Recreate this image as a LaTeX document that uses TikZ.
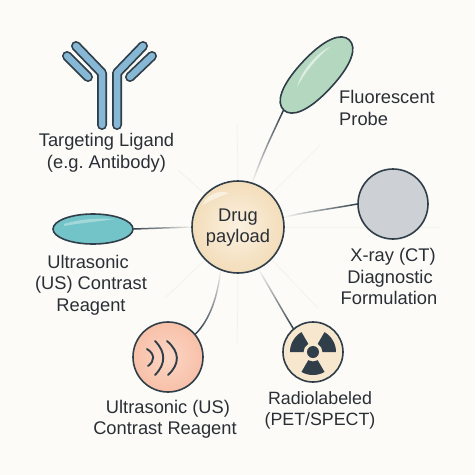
\documentclass[tikz,border=0pt]{standalone}
\usepackage{fontspec}
\setmainfont{Liberation Sans}
\usetikzlibrary{shapes.geometric,fadings}
\definecolor{bgc}{HTML}{FCFBF8}
\definecolor{inkc}{HTML}{2F3E48}
\definecolor{txtc}{HTML}{2A2F36}
\definecolor{rayc}{HTML}{F5F3EE}
\definecolor{blueC}{HTML}{86B7D4}
\definecolor{drugIn}{HTML}{FBF1E0}
\definecolor{drugOut}{HTML}{F3DDBA}
\definecolor{greenC}{HTML}{B4D8BF}
\definecolor{greyC}{HTML}{CDD0D4}
\definecolor{tealB}{HTML}{72C4C8}
\definecolor{peachA}{HTML}{FBD6C5}
\definecolor{peachB}{HTML}{F8C0A8}
\definecolor{radC}{HTML}{F6E7CE}
\tikzset{
  lbl/.style={align=center,text=txtc,font=\fontsize{18.3}{21.5}\selectfont\frenchspacing,inner sep=0pt},
  item/.style={draw=inkc,line width=1.6pt,inner sep=0pt},
  conn/.style={draw=#1,line width=1.5pt,line cap=round},
  conn/.default=inkc,
  ray/.style={draw=rayc,line width=1pt},
  arm/.style={line cap=round,line join=round}
}
\begin{document}
\begin{tikzpicture}[x=1pt,y=-1pt]
\useasboundingbox (0,0) rectangle (475,475);
\fill[bgc] (0,0) rectangle (475,475);
% faint rays
\foreach \ex/\ey/\tx/\ty in {238/180/237/125, 238/274/237/345, 191/227/150/227, 285/227/440/227,
   205/194/178/170, 272/193/320/145, 205/260/165/298, 272/260/318/308}{
  \draw[ray] (\ex,\ey) -- (\tx,\ty);
}
% nodes
\node[item,circle,minimum size=92pt,inner color=drugIn,outer color=drugOut] (drug) at (238,227) {};
\node[ellipse,rotate=47,minimum width=97pt,minimum height=38pt,inner sep=0pt] (probe) at (316.5,75) {};
\begin{scope}[shift={(probe.center)},rotate=47,x=1pt,y=1pt]
  \path[draw=inkc,line width=1.6pt,fill=greenC] (-48,0) .. controls (-48,-11) and (-32,-19) .. (0,-19)
    .. controls (32,-19) and (48,-11) .. (48,0)
    .. controls (48,11) and (32,19) .. (0,19)
    .. controls (-32,19) and (-48,11) .. (-48,0) -- cycle;
  \fill[white,opacity=.55] (-22,6) .. controls (-8,10) and (16,12) .. (30,9) .. controls (18,15) and (-8,14) .. (-22,6) -- cycle;
\end{scope}
\node[item,circle,minimum size=70pt,fill=greyC] (xray) at (393,204) {};
\node[item,ellipse,minimum width=80pt,minimum height=30pt,fill=tealB] (bubble) at (93,229) {};
\node[item,circle,minimum size=70pt,inner color=peachA,outer color=peachB] (wave) at (168,357) {};
\node[item,circle,minimum size=60pt,fill=radC] (rad) at (313,352) {};
% connectors
\draw[conn,path fading=south] (probe.west) .. controls (272,135) and (262,155) .. (drug.72);
\draw[conn,path fading=west] (xray.west) .. controls (330,209) and (305,212) .. (drug.12);
\draw[conn,path fading=east] (bubble.east) -- (drug.180);
\draw[conn,path fading=north] (wave.40) .. controls (210,320) and (218,295) .. (drug.248);
\draw[conn,path fading=north] (rad.130) .. controls (282,310) and (272,292) .. (drug.296);
% highlights
\fill[white,opacity=.5] (202,205) .. controls (208,194) and (218,190) .. (229,193) .. controls (220,196) and (212,200) .. (202,205) -- cycle;
\fill[white,opacity=.35] (64,224) .. controls (80,219) and (95,218) .. (115,219) .. controls (95,222) and (80,223) .. (64,226) -- cycle;
% antibody
\foreach \w/\c in {10/inkc,6.5/blueC}{
  \draw[arm,line width=\w pt,draw=\c] (67,56) -- (88,77);
  \draw[arm,line width=\w pt,draw=\c] (152,56) -- (130,77);
  \draw[arm,line width=\w pt,draw=\c] (76,46) -- (102,73) -- (102,125);
  \draw[arm,line width=\w pt,draw=\c] (143,46) -- (117,73) -- (117,125);
}
% sound waves
\draw[inkc,line width=1.9pt,line cap=round]
  (147,349) .. controls (155,354) and (155,361) .. (148,366)
  (155,341) .. controls (166,352) and (166,364) .. (155,375)
  (167,341) .. controls (180,352) and (180,364) .. (168,375);
% radiation symbol
\begin{scope}[shift={(rad.center)},x=1pt,y=1pt]
  \fill[inkc] (0,0) circle (6);
  \foreach \a in {30,150,270}{
    \fill[inkc] (\a-30:9.5) -- (\a-30:23) arc (\a-30:\a+30:23) -- (\a+30:9.5) arc (\a+30:\a-30:9.5) -- cycle;
  }
\end{scope}
% labels
\node[lbl] (t1) at (106.5,153) {Targeting Ligand\\(e.g. Antibody)};
\node[lbl,align=left,anchor=west] (t2) at (339,108) {Fluorescent\\Probe};
\node[lbl] (t3) at (389,276.5) {\hspace*{8pt}X-ray (CT)\\\hspace*{2pt}Diagnostic\\Formulation};
\node[lbl] (t4) at (91,285) {\hspace*{-6pt}Ultrasonic\\(US) Contrast\\Reagent};
\node[lbl] (t5) at (165,419.5) {\hspace*{6pt}Ultrasonic (US)\\Contrast Reagent};
\node[lbl,font=\fontsize{17.8}{21.5}\selectfont] (t6) at (320,410.5) {Radiolabeled\\(PET/SPECT)};
\node[lbl] (t7) at (238,227.5) {Drug\\payload};
\end{tikzpicture}
\end{document}
